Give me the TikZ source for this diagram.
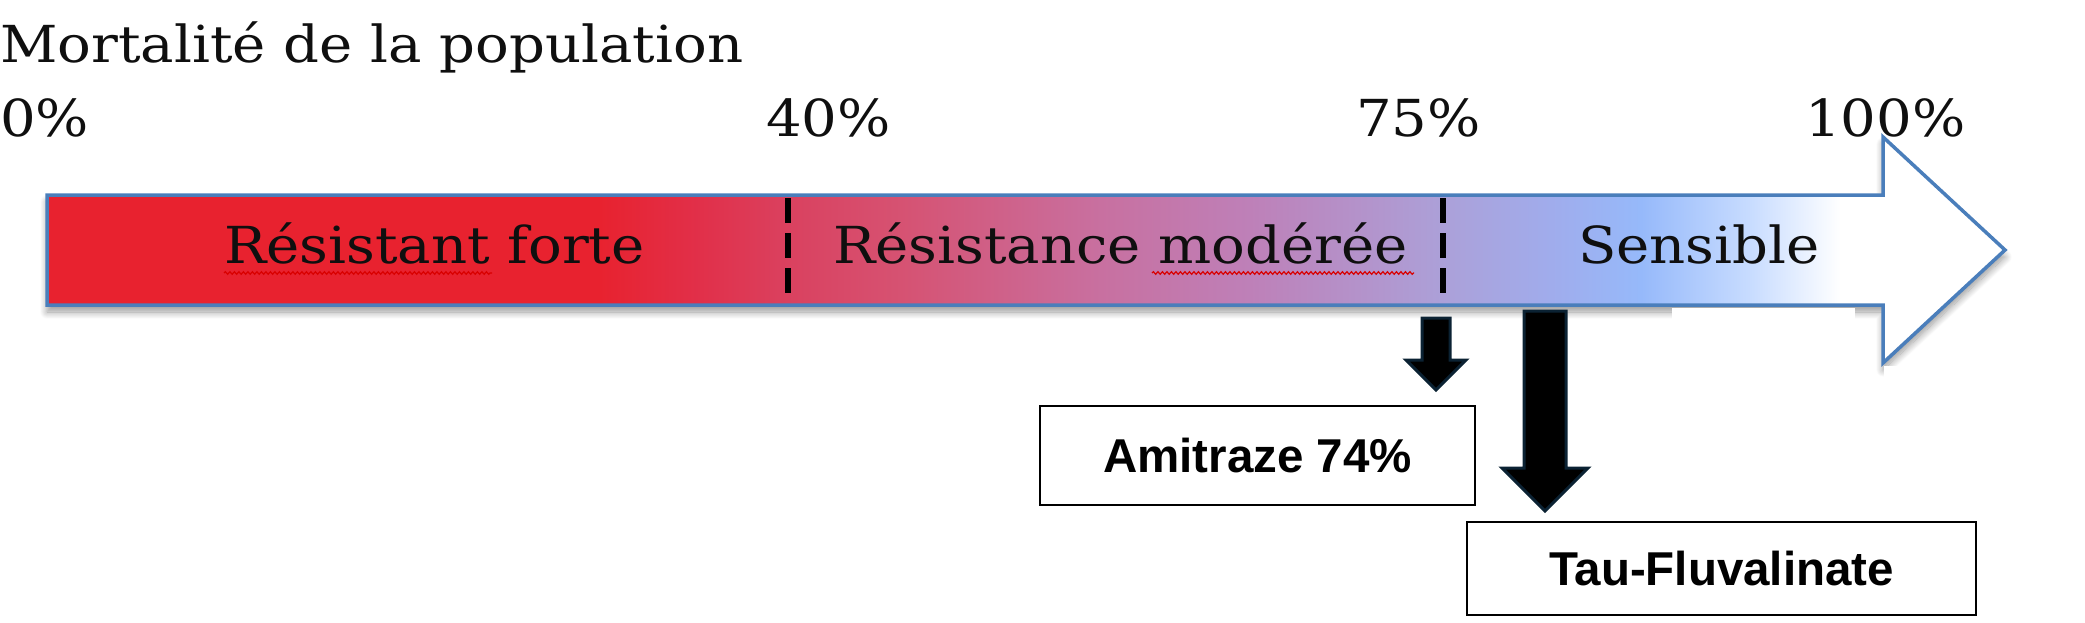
\documentclass[tikz,border=0pt]{standalone}
\usepackage{fontspec}
\usepackage{graphicx}
\usetikzlibrary{shadows.blur,decorations.pathmorphing}
\newfontfamily\labfont{Liberation Sans}
\newfontfamily\serfont{DejaVu Serif}
\newcommand{\sx}[1]{\scalebox{1.1}[1]{#1}}
\definecolor{barred}{RGB}{232,34,47}
\definecolor{cA}{RGB}{225,48,74}
\definecolor{cB}{RGB}{218,65,95}
\definecolor{cC}{RGB}{214,82,114}
\definecolor{cD}{RGB}{200,112,160}
\definecolor{cE}{RGB}{190,128,184}
\definecolor{cF}{RGB}{172,160,216}
\definecolor{cG}{RGB}{160,172,236}
\definecolor{cH}{RGB}{150,185,250}
\definecolor{cI}{RGB}{200,220,255}
\definecolor{barblue}{RGB}{74,126,187}
\definecolor{arrowline}{RGB}{11,34,51}
\definecolor{textgray}{RGB}{15,15,15}
\pgfdeclarehorizontalshading{barshade}{100bp}{color(0bp)=(barred); color(25bp)=(barred); color(39.1bp)=(barred); color(41.7bp)=(cA); color(43.9bp)=(cB); color(46.8bp)=(cC); color(51.9bp)=(cD); color(55.7bp)=(cE); color(60.6bp)=(cF); color(63.4bp)=(cG); color(65.7bp)=(cH); color(68.5bp)=(cI); color(70.8bp)=(white); color(100bp)=(white)}
\begin{document}
\begin{tikzpicture}[x=1pt,y=-1pt,
  serif/.style={anchor=base west, inner sep=0pt, text=textgray, font=\serfont\fontsize{51}{56}\selectfont},
  resultbox/.style={draw=black, line width=2.5pt, fill=white, inner sep=0pt, font=\labfont\bfseries\fontsize{47.5}{50}\selectfont},
  blockarrow/.style={fill=black, draw=arrowline, line width=3pt, line join=miter},
  sepline/.style={draw=black, line width=6pt, dash pattern=on 25pt off 10pt},
  squiggle/.style={draw=red!85!black, line width=1.2pt, decorate, decoration={snake, amplitude=1.3pt, segment length=4.5pt}}]
\useasboundingbox (0,0) rectangle (2085,623);
% title and scale
\node[serif] (title) at (0,63) {\sx{Mortalité de la population}};
\node[serif] (p0) at (0,137) {\sx{0\%}};
\node[serif] (p40) at (766,137) {\sx{40\%}};
\node[serif] (p75) at (1356,137) {\sx{75\%}};
\node[serif] (p100) at (1805,137) {\sx{100\%}};
% shadow of the bar
\path[blur shadow={shadow xshift=0pt, shadow yshift=-7pt, shadow blur radius=7pt, shadow blur steps=12, shadow opacity=40}]
  (47,195) -- (1883,195) -- (1883,137) -- (2005,250) -- (1883,363) -- (1883,305) -- (47,305) -- cycle;
\fill[white] (1672,308) rectangle (1855,333);
\fill[white] (1884,366) rectangle (2085,400);
% the bar arrow
\shade[shading=barshade, draw=barblue, line width=3.5pt, line join=miter]
  (47,195) -- (1883,195) -- (1883,137) -- (2005,250) -- (1883,363) -- (1883,305) -- (47,305) -- cycle;
% separators
\coordinate (s40t) at (788,198);
\coordinate (s40b) at (788,302);
\coordinate (s75t) at (1443,198);
\coordinate (s75b) at (1443,302);
\draw[sepline] (s40t) -- (s40b);
\draw[sepline] (s75t) -- (s75b);
% zone labels
\node[serif] (z1) at (224,263) {\sx{Résistant forte}};
\node[serif] (z2) at (833,263) {\sx{Résistance modérée}};
\node[serif] (z3) at (1578,263) {\sx{Sensible}};
\draw[squiggle] (224,273) -- (492,273);
\draw[squiggle] (1152,273) -- (1414,273);
% result boxes
\node[resultbox, minimum width=435pt, minimum height=99pt] (ami) at (1257.5,455.5) {Amitraze 74\%};
\node[resultbox, minimum width=509pt, minimum height=93pt] (tau) at (1721.5,568.5) {Tau-Fluvalinate};
% block arrows
\draw[blockarrow] (1422,318) -- (1450,318) -- (1450,360) -- (1466,360) -- (1436,390) -- (1406,360) -- (1422,360) -- cycle;
\draw[blockarrow] (1524,311) -- (1566,311) -- (1566,468) -- (1588,468) -- (1545,511) -- (1502,468) -- (1524,468) -- cycle;
\end{tikzpicture}
\end{document}
